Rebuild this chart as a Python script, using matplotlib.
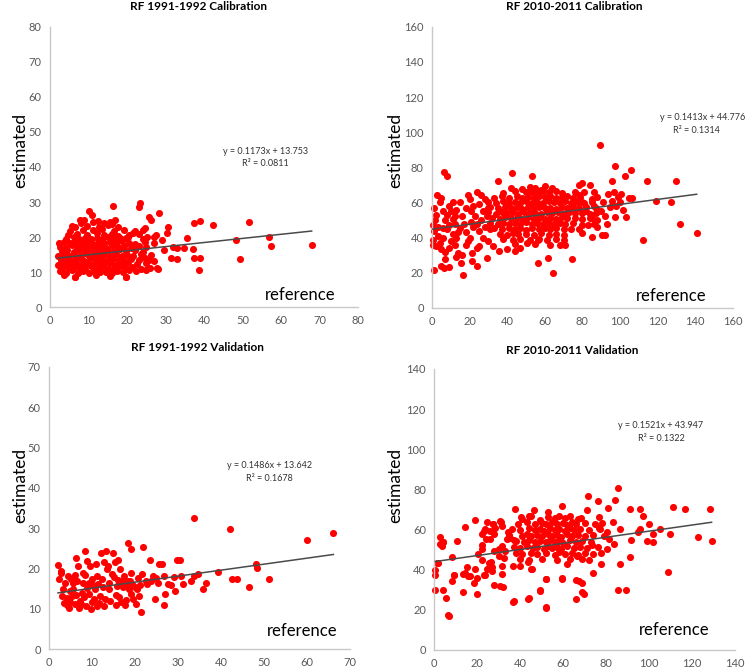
import numpy as np
import matplotlib.pyplot as plt

plt.rcParams['font.family'] = ['Lato', 'DejaVu Sans']

titles = ["RF 1991-1992 Calibration", "RF 2010-2011 Calibration",
          "RF 1991-1992 Validation", "RF 2010-2011 Validation"]
slopes = [0.1173, 0.1413, 0.1486, 0.1521]
intercepts = [13.753, 44.776, 13.642, 43.947]
r2_values = ["0.0811", "0.1314", "0.1678", "0.1322"]
axis_max = [80, 160, 70, 140]
axis_step = [10, 20, 10, 20]

# RF 1991-1992 calibration (reference, estimated)
cal91 = [
    (2.5, 10.3), (4.1, 9.8), (5.6, 10.5), (7.2, 9.6), (8.6, 10.2), (10.1, 9.7), (11.4, 10.4), (13.0, 9.9),
    (14.6, 10.1), (16.2, 9.6), (17.4, 10.3), (18.9, 9.9), (20.6, 10.5), (22.3, 10.2), (24.8, 10.6),
    (3.1, 11.2), (4.6, 11.5), (6.0, 10.9), (7.6, 11.4), (9.1, 11.0), (10.6, 11.6), (12.2, 11.1), (13.6, 11.4),
    (15.1, 10.9), (16.7, 11.3), (18.2, 11.7), (19.6, 11.1), (21.2, 11.4), (23.6, 11.0), (26.0, 11.3), (28.1, 10.9),
    (2.0, 12.1), (3.6, 12.6), (5.1, 12.2), (6.6, 12.7), (8.1, 12.1), (9.6, 12.5), (11.1, 12.3), (12.6, 12.8),
    (14.1, 12.2), (15.6, 12.6), (17.1, 12.0), (18.6, 12.4), (20.2, 12.8), (22.6, 12.3), (24.9, 12.7),
    (2.9, 13.4), (4.3, 13.8), (5.9, 13.2), (7.3, 13.7), (8.9, 13.3), (10.3, 13.9), (11.9, 13.4), (13.3, 13.6),
    (14.9, 13.1), (16.3, 13.8), (17.9, 13.5), (19.3, 13.2), (21.1, 13.7), (23.1, 13.4), (24.6, 13.9), (27.0, 13.3),
    (2.1, 14.7), (3.6, 15.1), (5.0, 14.6), (6.6, 15.0), (8.1, 14.5), (9.6, 15.2), (11.1, 14.8), (12.6, 14.4),
    (14.1, 15.0), (15.6, 14.6), (17.1, 15.2), (18.6, 14.7), (20.1, 15.0), (21.6, 14.5), (23.6, 15.1), (26.1, 14.8),
    (3.0, 16.0), (4.5, 16.4), (6.1, 15.8), (7.6, 16.3), (9.1, 15.9), (10.6, 16.5), (12.1, 16.1), (13.6, 15.7),
    (15.1, 16.4), (16.6, 16.0), (18.1, 16.6), (19.6, 15.9), (22.0, 16.3), (24.1, 15.8),
    (2.6, 17.3), (4.1, 17.0), (5.6, 17.6), (7.1, 17.1), (8.6, 17.4), (10.1, 16.9), (11.6, 17.5), (13.1, 17.2),
    (14.6, 16.9), (16.1, 17.6), (17.6, 17.1), (19.1, 17.4), (21.0, 17.0), (23.0, 17.5), (25.0, 17.2),
    (3.6, 18.5), (5.1, 18.2), (6.6, 18.8), (8.1, 18.3), (9.6, 18.6), (11.1, 18.1), (12.6, 18.7), (14.1, 18.3),
    (15.6, 18.6), (17.1, 18.2), (18.6, 18.8), (20.6, 18.4), (22.1, 18.0), (24.6, 18.6), (27.0, 18.3),
    (4.1, 19.5), (6.1, 19.9), (7.6, 19.4), (9.1, 19.8), (10.6, 19.3), (12.1, 19.7), (13.6, 19.5), (15.1, 20.0),
    (16.6, 19.4), (18.1, 19.8), (19.6, 19.6), (24.1, 19.5), (25.2, 19.9),
    (4.6, 20.6), (7.1, 21.0), (9.6, 20.7), (12.1, 21.1), (14.1, 20.5), (16.1, 20.9), (17.6, 20.4), (20.6, 20.6),
    (23.1, 20.9), (27.6, 20.5),
    (5.1, 21.8), (8.6, 22.1), (11.1, 21.9), (13.6, 22.3), (16.6, 21.7), (19.1, 22.0), (22.1, 21.8),
    (6.6, 23.0), (9.6, 23.2), (12.6, 22.8), (15.1, 23.3), (17.6, 22.9), (24.6, 22.6),
    (8.1, 23.9), (11.1, 24.3), (14.1, 24.0), (16.1, 23.6),
    (6.4, 8.6), (19.7, 8.7), (3.5, 9.3), (12.0, 9.2), (15.5, 9.0),
    (67.9, 17.8), (56.9, 20.0), (57.3, 17.5), (51.6, 24.4), (49.3, 13.7), (48.3, 19.2), (42.2, 23.5),
    (38.8, 24.7), (37.4, 23.9), (38.8, 14.0), (37.4, 14.0), (38.7, 10.6), (37.2, 16.5), (35.5, 19.7),
    (34.8, 16.8), (32.9, 16.8), (32.0, 17.3), (32.9, 13.7), (31.3, 14.0), (30.7, 23.0), (30.3, 21.1),
    (29.6, 16.2), (29.0, 19.2), (28.4, 26.8), (27.7, 11.1), (27.0, 20.1), (25.8, 25.8), (26.1, 24.9),
    (25.8, 13.5), (25.5, 11.1), (23.4, 29.6), (23.2, 28.7), (16.4, 28.9), (19.7, 8.7), (6.4, 8.6),
    (10.0, 27.3), (10.8, 26.3), (12.5, 24.7), (5.6, 23.2), (7.8, 24.9), (8.7, 24.9), (15.6, 24.4),
    (16.9, 24.9), (24.2, 22.0), (21.6, 21.1), (20.3, 20.1), (2.2, 18.4),
]

# RF 2010-2011 calibration
cal10 = [
    (42, 68.5), (48, 67.5), (52, 69), (55, 68), (58, 67), (64, 68.5), (60, 69.5),
    (38, 65.5), (44, 66.5), (50, 65.8), (53, 66.2), (56, 65.5), (59, 66.8), (62, 65.9), (66, 66.4), (69, 65.2), (76, 66),
    (33, 62.5), (37, 63.4), (41, 62.8), (45, 63.6), (48, 62.7), (51, 63.3), (54, 62.6), (57, 63.8), (60, 62.9),
    (63, 63.5), (66, 62.4), (69, 63.1), (72, 63.7), (75, 62.5), (79, 63.2),
    (30, 60.4), (34, 59.6), (38, 60.8), (41, 59.9), (44, 60.5), (47, 59.4), (50, 60.7), (53, 59.8), (56, 60.3),
    (59, 59.5), (62, 60.9), (65, 60.1), (68, 59.7), (71, 60.6), (74, 59.9), (77, 60.4), (81, 59.6), (85, 60.5),
    (31, 57.2), (35, 56.6), (39, 57.5), (42, 56.8), (45, 57.3), (48, 56.5), (51, 57.6), (54, 56.9), (57, 57.4),
    (60, 56.7), (63, 57.1), (66, 56.4), (69, 57.5), (72, 56.8), (75, 57.3), (78, 56.6), (82, 57.4), (87, 56.9),
    (30, 54.3), (34, 53.6), (37, 54.5), (40, 53.8), (43, 54.4), (46, 53.5), (49, 54.6), (52, 53.9), (55, 54.2),
    (58, 53.6), (61, 54.7), (64, 53.8), (67, 54.3), (70, 53.7), (73, 54.5), (76, 53.9), (80, 54.2), (84, 53.5),
    (32, 51.2), (36, 50.6), (39, 51.5), (42, 50.9), (45, 51.3), (48, 50.5), (51, 51.6), (54, 50.8), (57, 51.4),
    (60, 50.7), (63, 51.2), (66, 50.6), (69, 51.5), (72, 50.9), (76, 51.3), (80, 50.5), (85, 51.1),
    (31, 48.3), (35, 47.6), (38, 48.5), (41, 47.8), (44, 48.4), (47, 47.5), (50, 48.6), (53, 47.9), (56, 48.2),
    (59, 47.6), (62, 48.5), (65, 47.7), (68, 48.3), (71, 47.9), (75, 48.1), (80, 47.4),
    (33, 45.2), (37, 44.6), (41, 45.5), (44, 44.8), (47, 45.3), (50, 44.5), (53, 45.4), (57, 44.9), (60, 45.2),
    (63, 44.6), (66, 45.5), (70, 44.8), (74, 45.1), (78, 44.6),
    (36, 42.3), (40, 41.6), (43, 42.5), (46, 41.8), (50, 42.2), (54, 41.5), (58, 42.4), (62, 41.7), (66, 42.1), (70, 41.4),
    (38, 39.2), (43, 38.6), (47, 39.4), (52, 38.5), (57, 39.3), (61, 38.7), (66, 39.1), (70, 38.4),
    (44, 36.2), (55, 36.5), (63, 36.0), (68, 35.7),
    (88, 63), (86, 66), (84, 70), (80, 71), (78, 70), (85, 62), (86, 58), (87, 54), (88, 50), (90, 55), (92, 52),
    (93, 48), (88, 46), (86, 48), (84, 51), (82, 55), (80, 60), (78, 64), (81, 66), (97, 66), (99, 63), (96, 61),
    (100, 60), (98, 58), (91, 60),
    (0.3, 35.5), (0.5, 38.5), (1, 44), (1.5, 50), (2, 53), (0.5, 47), (3, 41), (2.5, 64), (4, 60), (5, 62.5),
    (6, 55), (7, 50), (8, 45), (6, 40), (5, 33.5), (7, 32), (9, 34), (10, 38), (11, 42), (12, 48), (12, 52.5),
    (13, 55.5), (10, 55), (11, 50.5), (9, 47), (8, 53), (13, 40), (14, 43), (15, 45.5), (16, 30), (14, 31),
    (13, 29), (15, 60.5), (18, 57), (20, 62), (19, 64), (22, 58), (21, 55), (23, 52), (24, 48), (22, 46),
    (20, 40), (19, 38), (18, 36), (25, 44), (26, 50), (27, 55), (25, 59), (24, 66), (26, 64), (28, 62),
    (28, 46), (29, 52), (30, 57), (27, 40), (25, 35), (24, 34), (30, 38), (31, 45), (1, 57), (3, 46), (4, 37),
    (2, 35), (6, 45.5), (9, 58), (16, 52), (17, 48), (11, 60), (21, 49), (18, 43), (7, 28), (12, 36),
    (89.3, 92.8), (97.6, 80.9), (106.1, 78.6), (102.9, 75.2), (114.6, 72.0), (130.0, 72.0), (95.8, 72.0),
    (127.3, 60.0), (119.3, 60.6), (104.7, 62.5), (106.5, 62.3), (100.8, 65.0), (93.7, 65.0), (131.7, 47.9),
    (140.8, 42.6), (112.3, 38.4), (103.2, 51.7), (97.6, 51.7), (101.6, 55.9), (94.6, 57.4), (90.2, 41.7),
    (92.0, 41.7), (85.2, 40.3), (79.6, 42.6), (83.1, 47.3), (74.3, 27.5), (64.5, 19.9), (61.9, 28.4),
    (56.6, 25.6), (70.7, 36.0), (42.4, 76.7), (53.0, 74.8), (35.0, 72.0), (6.2, 77.6), (8.0, 75.2),
    (0.9, 21.4), (16.3, 18.9), (9.2, 23.1), (5.0, 23.7), (6.2, 22.7), (15.6, 25.6), (21.2, 26.5), (23.8, 23.7),
    (21.2, 31.2), (29.2, 28.4), (32.5, 35.4), (39.8, 33.5), (35.4, 32.2), (44.2, 32.2), (46.9, 34.1),
    (50.4, 36.9), (56.6, 38.8),
]

# RF 1991-1992 validation
val91 = [
    (2.1, 20.8), (2.4, 17.3), (2.7, 19.4), (2.9, 18.8), (3.1, 13.2), (3.7, 16.5), (4.1, 12.8), (4.5, 18.2),
    (5.0, 11.6), (4.1, 10.9), (5.3, 13.2), (5.7, 14.9), (6.0, 18.3), (6.4, 22.7), (6.8, 20.6), (6.6, 16.9),
    (7.2, 12.0), (7.1, 10.3), (6.0, 11.1), (7.6, 14.0), (8.0, 16.5), (8.4, 24.4), (8.4, 18.3), (8.9, 21.9),
    (9.2, 16.5), (9.6, 20.6), (9.4, 13.6), (10.0, 11.6), (9.7, 9.9), (10.5, 12.4), (10.8, 14.9), (11.1, 18.2),
    (11.1, 10.6), (11.5, 16.1), (11.9, 13.2), (12.3, 17.3), (12.9, 21.5), (13.3, 24.4), (13.5, 19.8),
    (13.9, 14.9), (14.3, 12.0), (14.9, 23.9), (15.1, 17.8), (15.5, 13.4), (16.0, 22.1), (16.2, 16.1),
    (16.6, 20.0), (16.8, 11.6), (17.3, 15.3), (17.4, 18.2), (17.8, 10.9), (18.4, 26.3), (18.2, 16.3),
    (18.6, 14.9), (19.0, 24.8), (19.2, 18.8), (19.6, 12.4), (20.2, 11.1), (20.6, 14.9), (21.0, 13.2),
    (21.4, 9.2), (22.0, 25.4), (21.7, 18.6), (22.9, 16.1), (23.5, 22.1), (24.1, 18.2), (24.6, 12.4),
    (25.3, 16.3), (25.7, 21.1), (26.2, 21.1), (26.7, 18.2), (26.7, 10.9), (27.0, 13.6), (27.6, 16.1),
    (29.4, 14.5), (29.8, 22.1), (30.6, 22.1), (30.8, 18.2), (31.2, 16.1), (33.1, 16.9), (33.8, 32.5),
    (33.8, 18.2), (34.7, 18.6), (35.9, 14.9), (36.6, 16.5), (39.4, 19.2), (42.2, 29.7), (42.5, 17.3),
    (43.7, 17.3), (46.5, 15.5), (48.2, 21.1), (48.4, 20.1), (51.2, 17.5), (60.0, 27.1), (66.2, 28.7),
    (3.5, 11.5), (4.8, 14.5), (5.5, 16.5), (6.2, 13.5), (7.5, 11.2), (8.2, 13.0), (8.8, 15.2), (9.9, 17.5),
    (10.3, 15.8), (11.6, 11.5), (12.6, 15.5), (13.0, 12.5), (14.0, 16.3), (14.6, 18.6), (15.8, 15.7),
    (16.4, 13.0), (17.0, 16.8), (17.9, 12.3), (18.8, 17.0), (19.4, 16.2), (20.0, 15.5), (20.8, 17.6),
    (21.2, 16.0), (16.0, 17.2), (17.6, 17.0), (18.3, 16.8), (5.2, 17.4), (7.9, 19.0), (10.9, 21.2),
    (12.1, 23.8), (13.8, 20.6), (15.3, 21.6), (3.3, 15.0), (4.6, 10.2), (8.6, 10.8), (12.8, 10.6),
    (15.6, 11.0), (19.0, 13.6), (22.5, 17.0), (23.8, 16.9), (25.0, 17.6), (28.5, 16.0), (29.2, 18.0),
]

# RF 2010-2011 validation
val10 = [
    (40.5, 66.2), (45, 66.8), (53, 66.3), (56, 65.6), (58, 66.9), (61, 65.8), (63, 66.5), (67, 65.4),
    (39, 62.8), (43, 63.6), (47, 62.5), (50, 63.3), (52, 62.7), (55, 63.9), (57, 62.6), (60, 63.4), (62, 62.3),
    (64, 63.7), (66, 62.8), (70, 63.2), (75, 62.6),
    (36, 60.2), (40, 59.5), (44, 60.6), (47, 59.8), (49, 60.4), (51, 59.3), (54, 60.7), (56, 59.6), (58, 60.3),
    (61, 59.4), (63, 60.8), (65, 59.7), (68, 60.1), (72, 59.5), (77, 60.3),
    (35, 57.3), (41, 56.6), (43, 57.5), (45, 56.8), (48, 57.4), (50, 56.5), (53, 57.6), (55, 56.9), (57, 57.2),
    (59, 56.4), (62, 57.5), (64, 56.7), (67, 57.1), (70, 56.5), (74, 57.4), (79, 56.8),
    (38, 54.2), (42, 53.6), (44, 54.5), (47, 53.8), (49, 54.4), (52, 53.5), (54, 54.6), (56, 53.7), (58, 54.3),
    (60, 53.4), (63, 54.5), (66, 53.6), (69, 54.2), (73, 53.8),
    (37, 51.2), (40, 50.6), (43, 51.5), (46, 50.8), (48, 51.4), (51, 50.5), (53, 51.6), (55, 50.7), (57, 51.3),
    (59, 50.4), (62, 51.5), (65, 50.6), (68, 51.2), (71, 50.7), (76, 51.1),
    (38, 48.3), (41, 47.6), (45, 48.5), (48, 47.7), (52, 48.4), (56, 47.5), (58, 48.6), (61, 47.8), (64, 48.2),
    (67, 47.4), (70, 48.5), (74, 47.6),
    (40, 45.2), (44, 44.6), (50, 45.5), (57, 44.8), (63, 45.3), (72, 44.6),
    (37.4, 70.2), (59.4, 71.5), (52.8, 68.7), (44.2, 66.5), (49.3, 64.8), (40.8, 65.2), (19.1, 64.5),
    (14.4, 61.2), (27.3, 62.8), (31.0, 63.5), (23.0, 59.0), (2.8, 56.2), (4.3, 53.5), (3.6, 51.5), (10.8, 54.4),
    (8.2, 46.2), (1.2, 43.5), (0.5, 39.9), (0.5, 37.4), (0.5, 29.9), (4.3, 29.6), (5.6, 25.8), (7.0, 17.0),
    (13.2, 28.6), (19.9, 27.9), (9.3, 37.4), (13.4, 37.9), (15.2, 41.2), (18.8, 40.2), (16.8, 36.6),
    (23.0, 37.4), (26.9, 39.5), (27.6, 32.4), (30.7, 31.9), (19.9, 35.8), (25.7, 43.5), (36.9, 24.1),
    (43.9, 25.8), (52.1, 20.8), (49.3, 29.6), (52.1, 35.2), (59.4, 35.7), (66.1, 34.6), (66.0, 25.3),
    (45.5, 40.2), (40.0, 41.9), (36.6, 41.9),
    (2.6, 52.7), (4.2, 53.5), (1.9, 43.2), (22.0, 50.2), (22.0, 52.2), (22.4, 57.7), (23.6, 60.2), (25.9, 59.4),
    (24.4, 63.5), (27.5, 62.7), (28.2, 60.5), (30.7, 64.3), (31.4, 61.9), (25.9, 55.2), (27.9, 49.1),
    (30.1, 50.2), (31.7, 51.5), (30.1, 46.9), (26.4, 43.6), (26.7, 41.1), (24.4, 40.2), (23.6, 37.2),
    (20.5, 48.0), (22.0, 45.0), (24.0, 55.0), (34.0, 55.0), (35.2, 55.5), (37.3, 54.9), (31.4, 41.9),
    (31.4, 37.7), (32.1, 31.1), (45.0, 40.2), (43.6, 43.9), (18.6, 33.3), (15.5, 36.9), (14.3, 38.2),
    (8.4, 34.4), (9.3, 37.2), (6.5, 17.3), (28.0, 57.5), (33.0, 49.5), (34.5, 58.5), (32.5, 46.0),
    (128.4, 70.2), (129.1, 54.4), (116.7, 70.2), (111.3, 71.3), (122.6, 56.0), (109.7, 57.7), (109.0, 38.6),
    (105.1, 60.2), (102.0, 53.5), (102.0, 57.7), (98.9, 54.4), (97.3, 66.8), (99.9, 62.7), (95.8, 70.2),
    (96.0, 60.2), (95.0, 58.5), (91.1, 70.2), (91.6, 54.9), (91.1, 46.1), (89.1, 29.9), (85.4, 29.9),
    (86.5, 42.7), (85.4, 80.5), (84.2, 74.8), (86.3, 60.2), (83.3, 63.5), (83.8, 52.7), (80.7, 70.5),
    (80.2, 58.5), (80.2, 50.5), (77.6, 42.6), (76.4, 74.3), (76.6, 66.0), (76.6, 60.5), (71.7, 76.8),
    (69.8, 27.8), (68.6, 28.6), (68.9, 33.3), (67.4, 34.1), (74.0, 38.2), (59.3, 35.3), (52.0, 21.1),
    (52.0, 35.3), (49.2, 29.4), (43.8, 25.3), (36.8, 23.9), (78.0, 63.0), (81.5, 55.0), (73.5, 52.0),
    (77.5, 48.5), (69.0, 45.5), (62.0, 43.0), (66.5, 47.0), (71.0, 69.5), (68.5, 65.5), (46.5, 69.5),
]

panels = [cal91, cal10, val91, val10]

# axes rectangles and text anchors (axes fraction), per panel
rects = [[0.0667, 0.543, 0.411, 0.417], [0.576, 0.542, 0.401, 0.418],
         [0.0653, 0.034, 0.401, 0.420], [0.579, 0.033, 0.401, 0.418]]
eq_pos = [(0.698, 0.557), (0.900, 0.676), (0.734, 0.652), (0.754, 0.797)]
r2_pos = [(0.698, 0.511), (0.88, 0.630), (0.734, 0.606), (0.754, 0.754)]
ylab_pos = [(-0.097, 0.56), (-0.123, 0.56), (-0.096, 0.58), (-0.13, 0.585)]
ref_pos = [(0.698, 0.043), (0.678, 0.043), (0.724, 0.064), (0.681, 0.071)]
title_pos = [(198, 7), (574, 7), (197, 347), (572, 350)]

fig = plt.figure(figsize=(7.5, 6.72), dpi=100)
for i, pts in enumerate(panels):
    ax = fig.add_axes(rects[i])
    xy = np.array(pts)
    ax.scatter(xy[:, 0], xy[:, 1], s=26, color='#ff0000', linewidths=0, clip_on=False, zorder=2)
    xl = np.array([xy[:, 0].min(), xy[:, 0].max()])
    ax.plot(xl, slopes[i] * xl + intercepts[i], color='#4a4a4a', lw=1.1, zorder=3)

    m, st = axis_max[i], axis_step[i]
    ax.set_xlim(0, m)
    ax.set_ylim(0, m)
    ax.set_xticks(np.arange(0, m + 1, st))
    ax.set_yticks(np.arange(0, m + 1, st))
    ax.tick_params(length=0, labelsize=8, labelcolor='#595959', pad=6)
    for s in ['top', 'right']:
        ax.spines[s].set_visible(False)
    for s in ['left', 'bottom']:
        ax.spines[s].set_color('#c8c8c8')
        ax.spines[s].set_linewidth(1.0)

    ax.text(*ylab_pos[i], "estimated", rotation=90, fontsize=12.5, ha='center', va='center',
            transform=ax.transAxes)
    ax.text(*ref_pos[i], "reference", fontsize=12, ha='left', va='center', transform=ax.transAxes)
    ax.text(*eq_pos[i], f"y = {slopes[i]}x + {intercepts[i]}", fontsize=6.5,
            ha='center', va='center', color='#333333', transform=ax.transAxes)
    ax.text(*r2_pos[i], f"R² = {r2_values[i]}", fontsize=6.5,
            ha='center', va='center', color='#333333', transform=ax.transAxes)
    tx, ty = title_pos[i]
    fig.text(tx / 750, 1 - ty / 672, titles[i], fontsize=8.5, fontweight='bold', ha='center', va='center')

fig.savefig('out.png', dpi=100)
